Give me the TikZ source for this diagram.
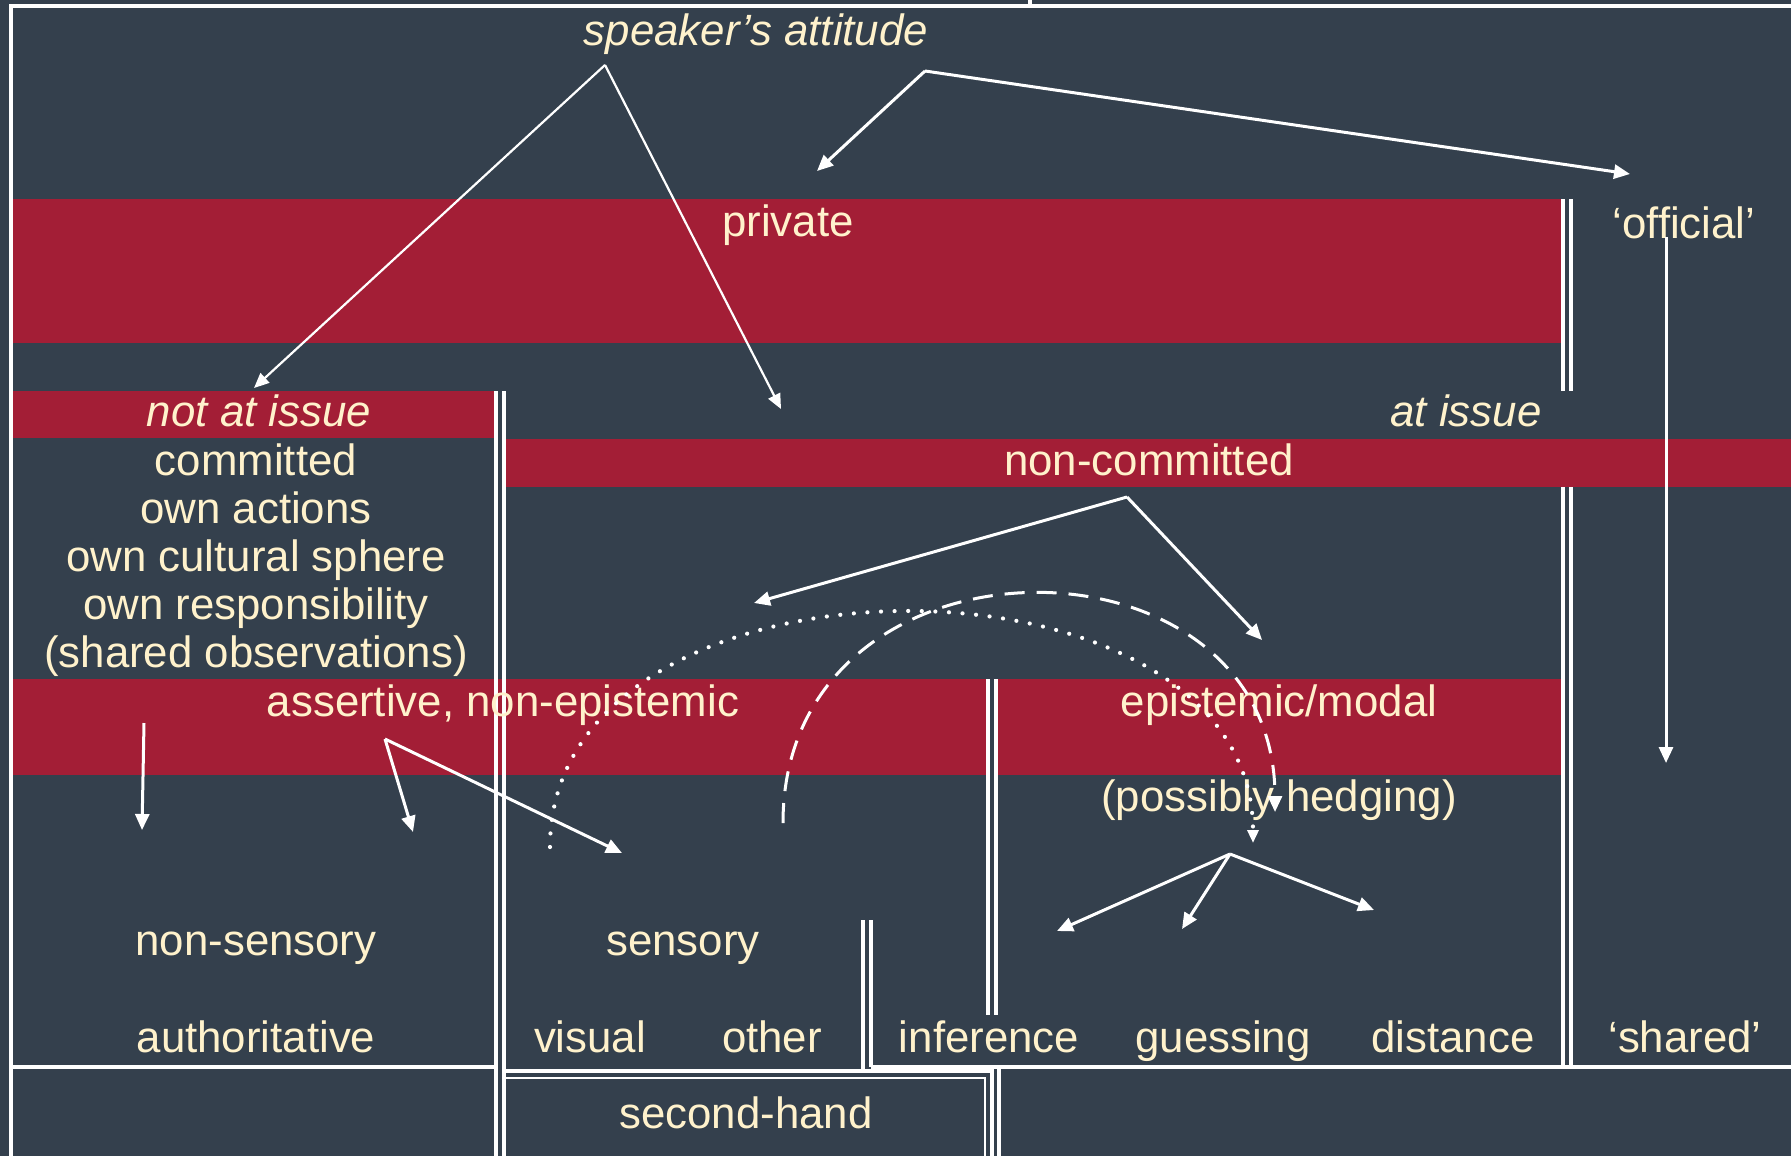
\documentclass[tikz,border=0pt]{standalone}
\usepackage{fontspec}
\setmainfont{Liberation Sans}
\usetikzlibrary{arrows.meta}
\definecolor{bg}{RGB}{52,64,77}
\definecolor{band}{RGB}{163,30,54}
\definecolor{txt}{RGB}{255,242,204}
\tikzset{
  lbl/.style={text=txt, font=\fontsize{21.9}{24}\selectfont, inner sep=0pt, anchor=base},
  ilbl/.style={lbl, font=\fontsize{21.9}{24}\selectfont\itshape},
  wl/.style={draw=white, line width=1.75pt},
  wlthin/.style={draw=white, line width=1.2pt},
  arr/.style={draw=white, line width=1.5pt, -{Triangle[length=8pt,width=7pt]}},
  tarr/.style={draw=white, line width=1.1pt, -{Triangle[length=7.5pt,width=6.5pt]}},
  dotarr/.style={arr, line width=2.1pt, line cap=round, dash pattern=on 0pt off 6.8pt, -{Triangle[length=6.5pt,width=5.5pt]}},
  dasharr/.style={arr, dash pattern=on 10pt off 6pt},
  bandfill/.style={fill=band, draw=none}
}
\begin{document}
\begin{tikzpicture}[x=0.5pt,y=-0.5pt]
\useasboundingbox (0,0) rectangle (1791,1156);
\fill[bg] (0,0) rectangle (1791,1156);

% red bands
\path[bandfill] (11,199) rectangle (1561,343);
\path[bandfill] (11,391) rectangle (494,438);
\path[bandfill] (506,439) rectangle (1791,487);
\path[bandfill] (11,679) rectangle (986,775);
\path[bandfill] (998,679) rectangle (1561,775);

% frame lines
\draw[wl] (11,1156) -- (11,6) -- (1791,6);
\draw[wl] (1030,0) -- (1030,6);
\draw[wl] (1563,199) -- (1563,391);
\draw[wl] (1571,199) -- (1571,391);
\draw[wl] (1563,487) -- (1563,1067);
\draw[wl] (1571,487) -- (1571,1067);
\draw[wl] (496,391) -- (496,1156);
\draw[wl] (504,391) -- (504,1156);
\draw[wl] (988,679) -- (988,1015);
\draw[wl] (996,679) -- (996,1015);
\draw[wl] (863,920) -- (863,1071);
\draw[wl] (871,920) -- (871,1067);
\draw[wl] (11,1067) -- (496,1067);
\draw[wl] (871,1067) -- (1791,1067);
\draw[wl] (504,1071) -- (992,1071) -- (992,1156);
\draw[wlthin] (504,1078) -- (985,1078) -- (985,1156);
\draw[wl] (999,1067) -- (999,1156);

% labels
\node[ilbl] (sa) at (756,46) {speaker’s attitude};
\node[lbl] (priv) at (788,236) {private};
\node[lbl] (off) at (1684,238) {‘official’};
\node[ilbl] (nai) at (259,426) {not at issue};
\node[ilbl] (ai) at (1466,426) {at issue};
\node[lbl] (ncom) at (1149,475) {non-committed};
\node[lbl] (com) at (256,475) {committed};
\node[lbl] (oa) at (256,523) {own actions};
\node[lbl] (ocs) at (256,571) {own cultural sphere};
\node[lbl] (or) at (256,619) {own responsibility};
\node[lbl] (so) at (256,667) {(shared observations)};
\node[lbl] (ane) at (503,716) {assertive, non-epistemic};
\node[lbl] (epi) at (1279,716) {epistemic/modal};
\node[lbl] (hedge) at (1279,811) {(possibly hedging)};
\node[lbl] (nsens) at (256,955) {non-sensory};
\node[lbl] (sens) at (683,955) {sensory};
\node[lbl] (auth) at (256,1052) {authoritative};
\node[lbl] (vis) at (590,1052) {visual};
\node[lbl] (oth) at (772,1052) {other};
\node[lbl] (inf) at (989,1052) {inference};
\node[lbl] (gue) at (1223,1052) {guessing};
\node[lbl] (dis) at (1453,1052) {distance};
\node[lbl] (shd) at (1685,1052) {‘shared’};
\node[lbl] (sh) at (746,1128) {second-hand};

% arrow junctions and ends
\coordinate (j1) at (605,65);
\coordinate (j2) at (925,71);
\coordinate (j3) at (1127,497);
\coordinate (j4) at (385,739);
\coordinate (j5) at (1230,854);
\coordinate (a1) at (254,388);
\coordinate (a2) at (781,409);
\coordinate (a3) at (817,171);
\coordinate (a4) at (1630,174);
\coordinate (s0) at (1666,237);
\coordinate (a5) at (1666,763);
\coordinate (a6) at (754,603);
\coordinate (a7) at (1262,640);
\coordinate (n0) at (144,723);
\coordinate (a8) at (142,830);
\coordinate (a9) at (413,832);
\coordinate (a10) at (622,853);
\coordinate (a11) at (1057,931);
\coordinate (a12) at (1182,929);
\coordinate (a13) at (1374,910);
\coordinate (d0) at (550,847);
\coordinate (d1) at (1253,843);
\coordinate (e0) at (783,823);
\coordinate (e1) at (1275,812);

\draw[tarr] (j1) -- (a1);
\draw[tarr] (j1) -- (a2);
\draw[arr] (j2) -- (a3);
\draw[arr] (j2) -- (a4);
\draw[arr] (s0) -- (a5);
\draw[arr] (j3) -- (a6);
\draw[arr] (j3) -- (a7);
\draw[arr] (n0) -- (a8);
\draw[arr] (j4) -- (a9);
\draw[arr] (j4) -- (a10);
\draw[arr] (j5) -- (a11);
\draw[arr] (j5) -- (a12);
\draw[arr] (j5) -- (a13);
\draw[dotarr] (d0) .. controls (550,535) and (1253,535) .. (d1);
\draw[dasharr] (e0) .. controls (783,520) and (1275,520) .. (e1);
\end{tikzpicture}
\end{document}
